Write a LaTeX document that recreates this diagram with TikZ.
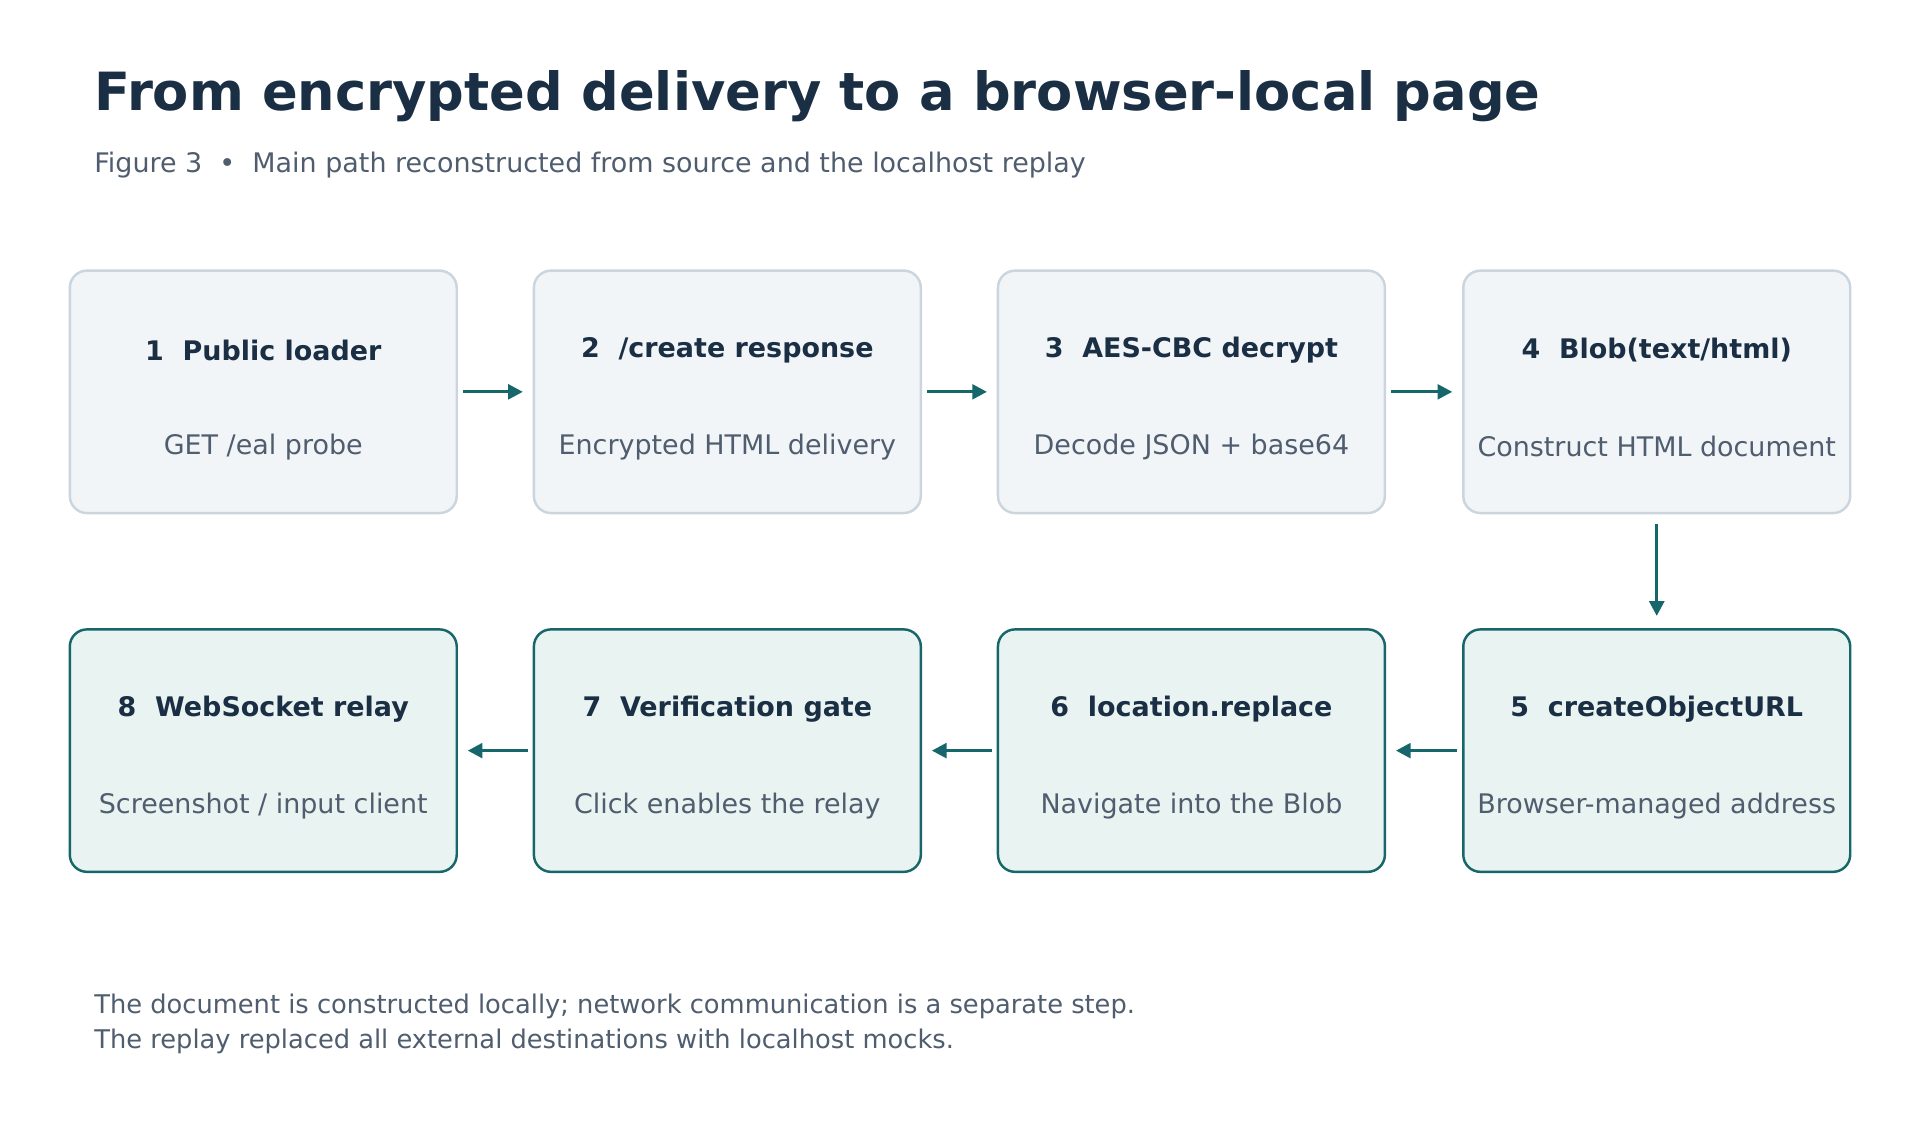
\documentclass[tikz,border=0pt]{standalone}
\usepackage{fontspec}
\setmainfont{DejaVu Sans}
\usetikzlibrary{arrows.meta}
\definecolor{navy}{HTML}{1A2E44}
\definecolor{greytxt}{HTML}{4F5D6E}
\definecolor{boxfill}{HTML}{F1F5F8}
\definecolor{boxline}{HTML}{CBD5DD}
\definecolor{teal}{HTML}{17666B}
\definecolor{tealfill}{HTML}{E9F3F2}
\tikzset{
  stage/.style={draw=boxline, fill=boxfill, line width=1pt, rounded corners=7pt,
    minimum width=158pt, minimum height=99pt, inner sep=0pt},
  stagelocal/.style={stage, draw=teal, fill=tealfill},
  head/.style={text=navy, font=\fontsize{11}{13}\selectfont\bfseries},
  sub/.style={text=greytxt, font=\fontsize{11}{13}\selectfont},
  flow/.style={-{Triangle[length=6pt,width=6pt]}, teal, line width=1.3pt, shorten <=2pt, shorten >=4pt}
}
\begin{document}
\begin{tikzpicture}[x=0.5pt,y=-0.5pt]
    \useasboundingbox (0,0) rectangle (1568,915);
    \node[anchor=base west, text=navy, font=\fontsize{21.5}{26}\selectfont\bfseries] (title) at (70,90) {From encrypted delivery to a browser-local page};
    \node[anchor=base west, sub] (subtitle) at (70,141) {Figure 3 \ \textbullet\ \ Main path reconstructed from source and the localhost replay};

    % upper row
    \node[stage] (s1) at (215,320) {};
    \node[stage] (s2) at (594,320) {};
    \node[stage] (s3) at (973,320) {};
    \node[stage] (s4) at (1353,320) {};
    % lower row
    \node[stagelocal] (s5) at (1353,613) {};
    \node[stagelocal] (s6) at (973,613) {};
    \node[stagelocal] (s7) at (594,613) {};
    \node[stagelocal] (s8) at (215,613) {};

    \foreach \n/\h/\s in {s1/{1\ \ Public loader}/{GET /eal probe},
        s2/{2\ \ /create response}/{Encrypted HTML delivery},
        s3/{3\ \ AES-CBC decrypt}/{Decode JSON + base64},
        s4/{4\ \ Blob(text/html)}/{Construct HTML document},
        s5/{5\ \ createObjectURL}/{Browser-managed address},
        s6/{6\ \ location.replace}/{Navigate into the Blob},
        s7/{7\ \ Verification gate}/{Click enables the relay},
        s8/{8\ \ WebSocket relay}/{Screenshot / input client}}{
      \node[head] (\n h) at ([yshift=17pt]\n.center) {\h};
      \node[sub] (\n s) at ([yshift=-22.5pt]\n.center) {\s};
    }

    \draw[flow] (s1) -- (s2);
    \draw[flow] (s2) -- (s3);
    \draw[flow] (s3) -- (s4);
    \draw[flow, shorten <=4pt, shorten >=5pt] (s4) -- (s5);
    \draw[flow] (s5) -- (s6);
    \draw[flow] (s6) -- (s7);
    \draw[flow] (s7) -- (s8);

    \node[anchor=base west, sub, font=\fontsize{10.5}{12}\selectfont] (note1) at (70,828) {The document is constructed locally; network communication is a separate step.};
    \node[anchor=base west, sub, font=\fontsize{10.5}{12}\selectfont] (note2) at (70,856) {The replay replaced all external destinations with localhost mocks.};
\end{tikzpicture}
\end{document}
